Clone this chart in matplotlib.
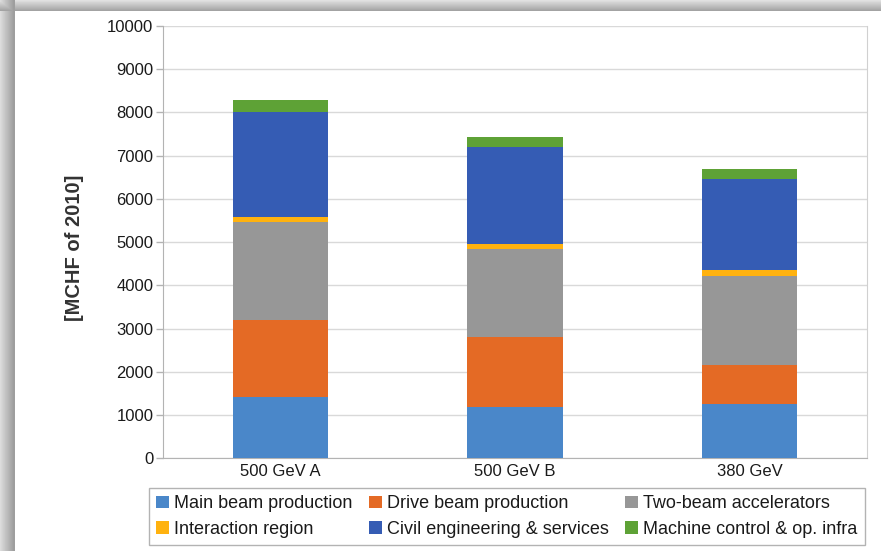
import matplotlib
matplotlib.use("Agg")
import matplotlib.pyplot as plt
import numpy as np

# Cost breakdown, MCHF of 2010
categories = ["500 GeV A", "500 GeV B", "380 GeV"]
main_beam = [1423, 1200, 1247]
drive_beam = [1770, 1600, 923]
two_beam = [2267, 2038, 2054]
interaction = [120, 130, 138]
civil = [2420, 2224, 2100]
machine = [286, 240, 238]

series = [
    ("Main beam production", main_beam, "#4a87c9"),
    ("Drive beam production", drive_beam, "#e46a25"),
    ("Two-beam accelerators", two_beam, "#979797"),
    ("Interaction region", interaction, "#ffb20f"),
    ("Civil engineering & services", civil, "#355cb4"),
    ("Machine control & op. infra", machine, "#5ea236"),
]

yticks = list(range(0, 10001, 1000))

plt.rcParams["font.family"] = ["Liberation Sans", "DejaVu Sans"]

W, H = 881, 551
fig = plt.figure(figsize=(W / 100, H / 100), dpi=100, facecolor="white")

# Screenshot frame shadow (left and top bands)
bg = fig.add_axes([0, 0, 1, 1], zorder=-5)
xs = np.arange(W)
ys = np.arange(H)
left = np.where(xs < 15, 0.86 - 0.24 * np.clip(xs / 13.0, 0, 1), 1.0)
top = np.where(ys < 11, 0.88 - 0.24 * np.clip(ys / 10.0, 0, 1), 1.0)
img = np.minimum(left[None, :], top[:, None])
bg.imshow(img, cmap="gray", vmin=0, vmax=1, aspect="auto", interpolation="bilinear")
bg.axis("off")

ax = fig.add_axes([163 / W, 1 - 458.4 / H, 704 / W, 432.4 / H])
ax.set_facecolor("white")

x = np.arange(len(categories))
bottom = np.zeros(len(categories))
handles = []
for name, vals, color in series:
    b = ax.bar(x, vals, width=0.405, bottom=bottom, color=color, label=name,
               edgecolor="none", zorder=3)
    handles.append(b)
    bottom += np.array(vals)

ax.set_xlim(-0.5, 2.5)
ax.set_ylim(0, 10000)
ax.set_yticks(yticks)
ax.set_xticks(x)
ax.set_xticklabels(categories)
ax.yaxis.grid(True, color="#d9d9d9", linewidth=1, zorder=0)
ax.set_axisbelow(True)

ax.tick_params(axis="y", length=5, width=1, color="#b3b3b3", pad=2,
               labelsize=12, labelcolor="#1a1a1a")
ax.tick_params(axis="x", length=0, pad=4, labelsize=12, labelcolor="#1a1a1a")

ax.spines["top"].set_visible(False)
ax.spines["left"].set_color("#b3b3b3")
ax.spines["bottom"].set_color("#b3b3b3")
ax.spines["right"].set_color("#d0d0d0")

fig.text(75 / W, 1 - 248 / H, "[MCHF of 2010]", rotation=90, ha="center",
         va="center", fontsize=14.5, fontweight="bold", color="#333333")

# legend fills row by row in the reference; matplotlib fills by column
order = [0, 3, 1, 4, 2, 5]
leg = fig.legend([handles[i] for i in order], [series[i][0] for i in order],
                 ncol=3, loc="center", bbox_to_anchor=(507 / W, 1 - 516.5 / H),
                 fontsize=13, frameon=True, fancybox=False, framealpha=1,
                 edgecolor="#b3b3b3", handlelength=0.7, handleheight=0.7,
                 handletextpad=0.3, columnspacing=0.9, labelspacing=0.45,
                 borderpad=0.4, borderaxespad=0)
leg.get_frame().set_linewidth(1)
for t in leg.get_texts():
    t.set_color("#1a1a1a")

fig.savefig("out.png", dpi=100, facecolor="white")
